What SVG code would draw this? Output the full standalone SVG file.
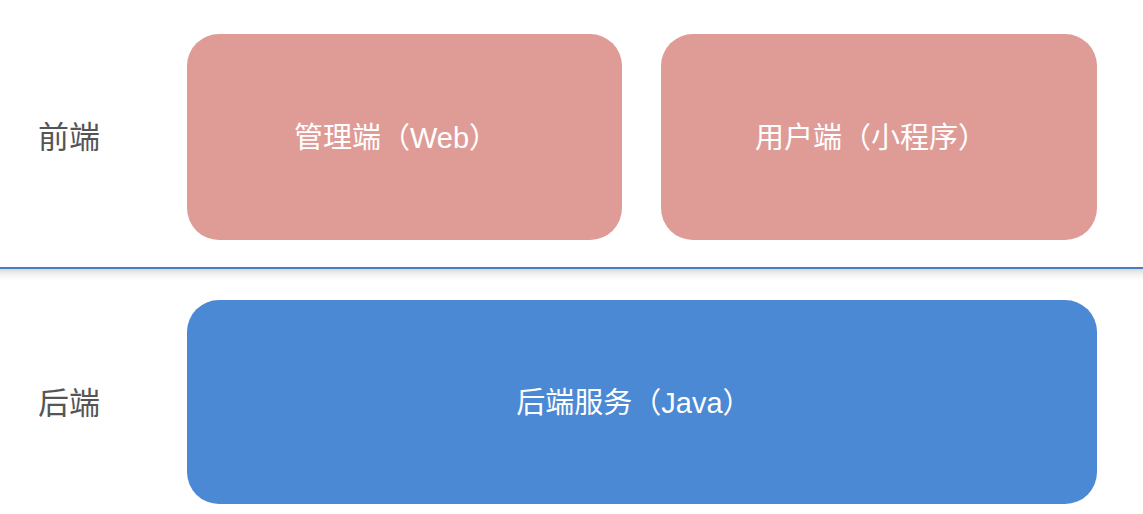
<svg xmlns="http://www.w3.org/2000/svg" width="1143" height="514" viewBox="0 0 1143 514">
<defs>
<linearGradient id="shadow" x1="0" y1="0" x2="0" y2="1">
<stop offset="0" stop-color="#d8d8d8"/>
<stop offset="1" stop-color="#ffffff" stop-opacity="0"/>
</linearGradient>
</defs>
<style>
.lbl{font-family:"Liberation Sans","Noto Sans CJK SC",sans-serif;font-size:31px;fill:#555555;text-anchor:middle;dominant-baseline:central}
.txt{font-family:"Liberation Sans","Noto Sans CJK SC",sans-serif;font-size:29px;fill:#ffffff;text-anchor:middle;dominant-baseline:central}
.fe{fill:#df9c97}
.be{fill:#4b89d4}
</style>
<rect width="1143" height="514" fill="#ffffff"/>
<g id="labels">
<text class="lbl" x="69" y="137">前端</text>
<text class="lbl" x="69" y="403">后端</text>
</g>
<g id="divider">
<rect x="0" y="269" width="1143" height="13" fill="url(#shadow)"/>
<line x1="0" y1="268" x2="1143" y2="268" stroke="#4a7cc4" stroke-width="2"/>
</g>
<g id="admin">
<rect class="fe" x="187" y="34" width="435" height="206" rx="32"/>
<text class="txt" x="396" y="138">管理端（Web）</text>
</g>
<g id="user">
<rect class="fe" x="661" y="34" width="436" height="206" rx="32"/>
<text class="txt" x="871" y="138">用户端（小程序）</text>
</g>
<g id="backend">
<rect class="be" x="187" y="300" width="910" height="204" rx="32"/>
<text class="txt" x="634" y="403">后端服务（Java）</text>
</g>
<g id="connectors"></g>
</svg>
